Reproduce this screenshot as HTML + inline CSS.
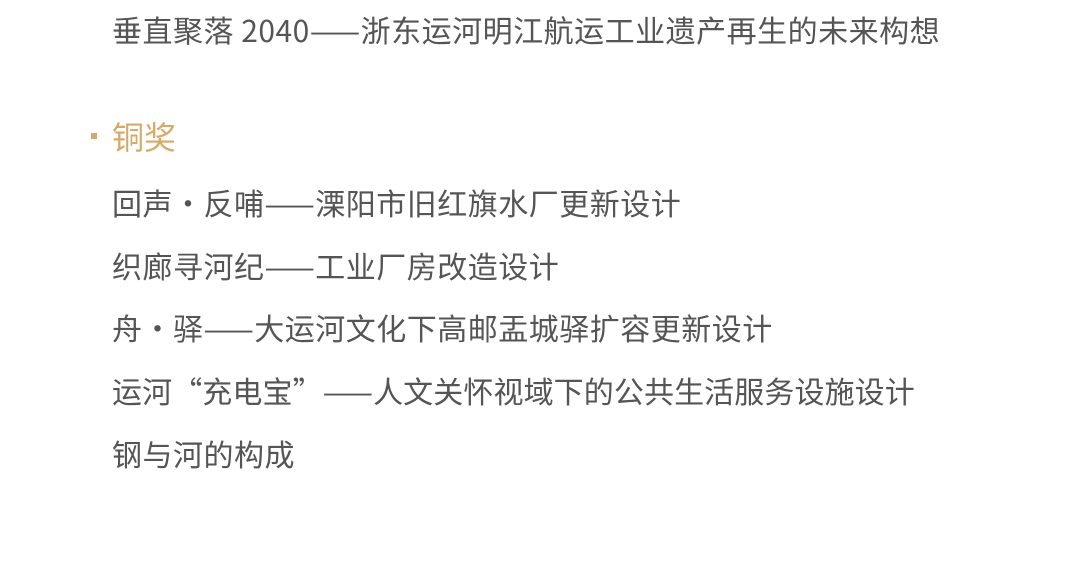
<!DOCTYPE html>
<html><head><meta charset="utf-8"><style>
body{margin:0;width:1080px;height:578px;background:#fff;overflow:hidden;position:relative;font-family:"Noto Sans CJK SC","Liberation Sans",sans-serif;color:#555}
.l{position:absolute;left:112px;font-size:30px;letter-spacing:0.5px;line-height:40px;white-space:nowrap}
.h{position:absolute;left:112px;font-size:32px;line-height:40px;color:#d6a968;white-space:nowrap}
.d{position:absolute;left:91px;top:133px;width:6px;height:6px;background:#d6a968}
</style></head><body>
<div class="l" style="top:9px">垂直聚落 2040——浙东运河明江航运工业遗产再生的未来构想</div>
<div class="d"></div>
<div class="h" style="top:116px">铜奖</div>
<div class="l" style="top:182px">回声·反哺——溧阳市旧红旗水厂更新设计</div>
<div class="l" style="top:245px">织廊寻河纪——工业厂房改造设计</div>
<div class="l" style="top:307px">舟·驿——大运河文化下高邮盂城驿扩容更新设计</div>
<div class="l" style="top:370px;letter-spacing:0.1px">运河“充电宝”——人文关怀视域下的公共生活服务设施设计</div>
<div class="l" style="top:433px">钢与河的构成</div>
</body></html>
